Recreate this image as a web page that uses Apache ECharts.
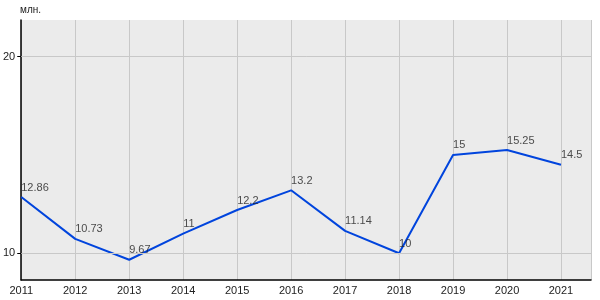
<!DOCTYPE html>
<html><head><meta charset="utf-8">
<script src="https://cdn.jsdelivr.net/npm/echarts@6/dist/echarts.min.js"></script>
<style>html,body{margin:0;padding:0;background:#fff}#c{width:600px;height:300px}</style>
</head><body><div id="c"></div>
<script>
const years = [2011, 2012, 2013, 2014, 2015, 2016, 2017, 2018, 2019, 2020, 2021];
const values = [12.86, 10.73, 9.67, 11, 12.2, 13.2, 11.14, 10, 15, 15.25, 14.5];
const yTicks = [10, 20];
const unitLabel = 'млн.';

const chart = echarts.init(document.getElementById('c'), null, {renderer: 'canvas'});
chart.setOption({
  animation: false,
  backgroundColor: '#ffffff',
  textStyle: {fontFamily: 'Liberation Sans, Arial, sans-serif'},
  graphic: [{type: 'text', left: 20, top: 5, style: {text: unitLabel, fontSize: 10, fill: '#222', fontFamily: 'Liberation Sans'}}],
  grid: {left: 21, top: 20, width: 570, height: 260, show: true, backgroundColor: '#ebebeb', borderWidth: 0},
  xAxis: {
    type: 'value', min: 2011, max: 2021.556, interval: 1,
    axisLine: {show: true, lineStyle: {color: '#000', width: 1.5}},
    axisTick: {show: false},
    axisLabel: {color: '#222', fontSize: 11, margin: 5, showMaxLabel: false, formatter: v => Number.isInteger(v) ? String(v) : ''},
    splitLine: {show: true, lineStyle: {color: '#c8c8c8', width: 1}}
  },
  yAxis: {
    type: 'value', min: 8.64, max: 21.86,
    axisLine: {show: true, onZero: false, lineStyle: {color: '#000', width: 1.5}},
    axisTick: {show: true, length: 4, customValues: yTicks, lineStyle: {color: '#000'}},
    axisLabel: {color: '#222', fontSize: 11, margin: 6, customValues: yTicks},
    splitLine: {show: false}
  },
  series: [{
    type: 'line',
    data: years.map((y, i) => [y, values[i]]),
    symbol: 'none',
    lineStyle: {color: '#0044dd', width: 2},
    markLine: {
      silent: true, symbol: 'none', label: {show: false},
      lineStyle: {color: '#c8c8c8', width: 1, type: 'solid'},
      data: yTicks.map(t => ({yAxis: t}))
    },
    z: 3
  }, {
    type: 'scatter',
    data: years.map((y, i) => [y, values[i]]),
    symbol: 'circle', symbolSize: 2,
    itemStyle: {color: 'rgba(0,0,0,0)'},
    label: {show: true, position: 'top', distance: 3, align: 'left', color: '#222', fontSize: 11, formatter: p => String(p.value[1])},
    z: 4
  }]
});
</script></body></html>
